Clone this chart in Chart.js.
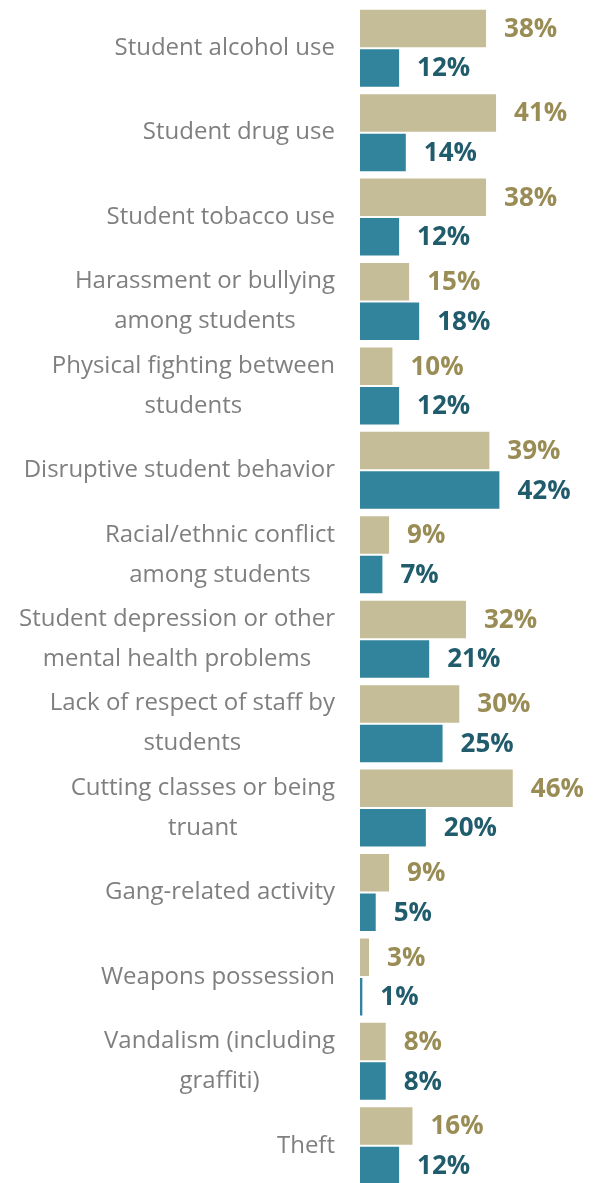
<!DOCTYPE html>
<html>
<head>
<meta charset="utf-8">
<script src="https://cdn.jsdelivr.net/npm/chart.js@4.4.1/dist/chart.umd.min.js"></script>
<style>
    html, body { margin: 0; padding: 0; background: #fff; overflow: hidden; }
    #wrap { position: relative; width: 593px; height: 1190px; }
</style>
</head>
<body>
<div id="wrap"><canvas id="problems"></canvas></div>
<script>
// categories (multi-line labels as arrays)
const categories = [
    ["Student alcohol use"],
    ["Student drug use"],
    ["Student tobacco use"],
    ["Harassment or bullying", "among students"],
    ["Physical fighting between", "students"],
    ["Disruptive student behavior"],
    ["Racial/ethnic conflict", "among students"],
    ["Student depression or other", "mental health problems"],
    ["Lack of respect of staff by", "students"],
    ["Cutting classes or being", "truant"],
    ["Gang-related activity"],
    ["Weapons possession"],
    ["Vandalism (including", "graffiti)"],
    ["Theft"],
];

// series values (%)
const seriesA = [38, 41, 38, 15, 10, 39, 9, 32, 30, 46, 9, 3, 8, 16];
const seriesB = [12, 14, 12, 18, 12, 42, 7, 21, 25, 20, 5, 1, 8, 12];

const fillA = "#c5bd97";
const fillB = "#31849b";
const textA = "#998c55";
const textB = "#215c6c";

// draws the category labels (lines centred within a right-aligned block) and value labels
const labelPlugin = {
    id: "labels",
    afterDatasetsDraw(chart) {
        const ctx = chart.ctx;
        const yScale = chart.scales.y;
        ctx.save();

        // category labels
        ctx.font = "24px 'Open Sans'";
        ctx.fillStyle = "#7f7f7f";
        ctx.textAlign = "center";
        ctx.textBaseline = "middle";
        const rightEdge = 335;
        const maxW = 317;
        const lineH = 40;
        categories.forEach((lines, i) => {
            const yc = yScale.getPixelForTick(i);
            const w = Math.min(maxW, Math.max(...lines.map((l) => ctx.measureText(l).width)));
            const xc = rightEdge - w / 2;
            const y0 = yc - ((lines.length - 1) * lineH) / 2;
            lines.forEach((l, k) => ctx.fillText(l, xc, y0 + k * lineH, maxW));
        });

        // value labels
        ctx.font = "bold 26px 'Open Sans'";
        ctx.textAlign = "left";
        chart.data.datasets.forEach((ds, d) => {
            const meta = chart.getDatasetMeta(d);
            ctx.fillStyle = d === 0 ? textA : textB;
            meta.data.forEach((bar, i) => {
                ctx.fillText(ds.data[i] + "%", bar.x + 17, bar.y + 1);
            });
        });
        ctx.restore();
    },
};

new Chart(document.getElementById("problems"), {
    type: "bar",
    data: {
        labels: categories,
        datasets: [
            {
                label: "A",
                data: seriesA,
                backgroundColor: fillA,
                borderColor: "rgba(255,255,255,0.7)",
                borderWidth: 1,
                categoryPercentage: 0.936,
                barPercentage: 1,
            },
            {
                label: "B",
                data: seriesB,
                backgroundColor: fillB,
                borderColor: "rgba(255,255,255,0.7)",
                borderWidth: 1,
                categoryPercentage: 0.936,
                barPercentage: 1,
            },
        ],
    },
    options: {
        indexAxis: "y",
        responsive: true,
        maintainAspectRatio: false,
        animation: false,
        layout: { padding: { top: 6, bottom: 2, left: 0, right: 0 } },
        plugins: {
            legend: { display: false },
            tooltip: { enabled: false },
        },
        scales: {
            x: {
                min: 0,
                max: 69.7,
                display: false,
            },
            y: {
                grid: { display: false },
                border: { display: false },
                ticks: { display: false },
                afterFit: (scale) => {
                    scale.width = 360;
                },
            },
        },
    },
    plugins: [labelPlugin],
});
</script>
</body>
</html>
